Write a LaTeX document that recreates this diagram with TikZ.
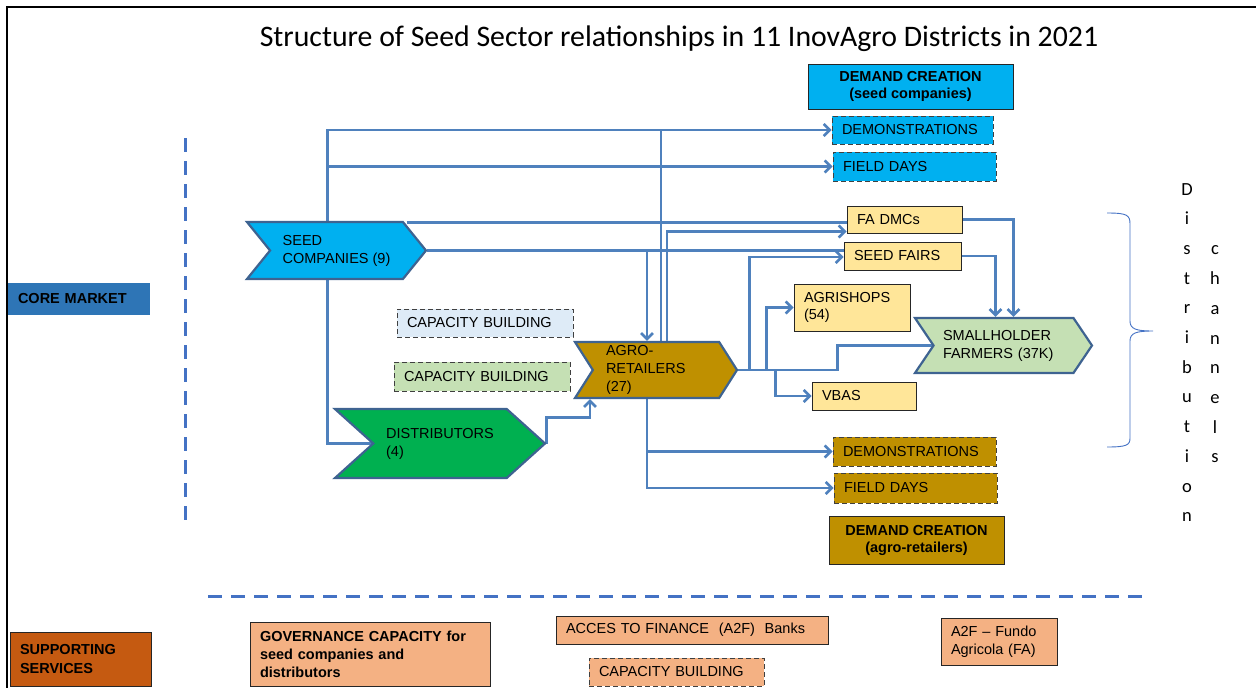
\documentclass[tikz,border=0pt]{standalone}
\usepackage{fontspec}
\setmainfont{Liberation Sans}
\newfontfamily\calibrifont{Carlito}
\usepackage{tikz}
\usetikzlibrary{arrows.meta, positioning, calc, shapes.symbols, backgrounds}
\definecolor{linkblue}{HTML}{4F81BD}
\definecolor{sepblue}{HTML}{4472C4}
\definecolor{chevedge}{HTML}{3E6391}
\definecolor{seedcyan}{HTML}{00B0F0}
\definecolor{agrogold}{HTML}{BF9000}
\definecolor{distgreen}{HTML}{00B050}
\definecolor{farmgreen}{HTML}{C5E0B4}
\definecolor{paleyellow}{HTML}{FFE699}
\definecolor{paleblue}{HTML}{DEEBF7}
\definecolor{coreblue}{HTML}{2E75B6}
\definecolor{suppbrown}{HTML}{C55A11}
\definecolor{peach}{HTML}{F4B183}
\tikzset{
  flow/.style={draw=linkblue, line width=2.6pt, -{Straight Barb[length=6pt, width=12pt]}},
  link/.style={draw=linkblue, line width=2.6pt},
  chevron/.style={signal, signal from=west, signal to=east, draw=chevedge, line width=2.2pt,
    align=left, inner sep=0pt, font=\fontsize{14.5}{18}\selectfont},
  tag/.style={rectangle, draw=black!85, line width=1pt, align=left, inner xsep=10pt,
    inner ysep=0pt, font=\fontsize{14.5}{17}\selectfont},
  dashtag/.style={tag, draw=black!75, dash pattern=on 5pt off 3pt},
  headtag/.style={tag, align=center, font=\bfseries\fontsize{14.5}{17}\selectfont},
  separator/.style={sepblue, line width=3pt, dash pattern=on 14pt off 9pt},
  letters/.style={font=\calibrifont\fontsize{18.5}{29.7}\selectfont, align=center, inner sep=0pt, anchor=north}
}

\begin{document}
\begin{tikzpicture}[x=1pt, y=-1pt]
  \useasboundingbox (0,0) rectangle (1256,688);

  % Frame
  \draw[black, line width=1.5pt] (7,688) -- (7,7) -- (1256,7);

  % Title
  \node[font=\calibrifont\fontsize{29.8}{30}\selectfont] (title) at (679,39)
    {Structure of Seed Sector relationships in 11 InovAgro Districts in 2021};

  % Side labels and separators
  \node[tag, draw=coreblue, fill=coreblue, text width=121pt, minimum height=31pt,
    font=\bfseries\fontsize{14.5}{17}\selectfont] (core) at (78.5,298.5) {CORE MARKET};
  \draw[separator] (185,138) -- (185,520);
  \draw[separator] (208,596) -- (1148,596);

  % Demand creation (seed companies)
  \node[headtag, fill=seedcyan, minimum width=205pt, minimum height=45pt] (dcseed) at (910.5,86.5)
    {DEMAND CREATION\\(seed companies)};
  \node[dashtag, fill=seedcyan, text width=141pt, minimum height=28pt] (demoseed) at (912.5,130) {DEMONSTRATIONS};
  \node[dashtag, fill=seedcyan, text width=143pt, minimum height=29pt] (fdseed) at (914.5,166.5) {FIELD DAYS};

  % Distribution channels
  \node[tag, fill=paleyellow, text width=95pt, minimum height=27pt] (fadmc) at (904.5,219.5) {FA DMCs};
  \node[tag, fill=paleyellow, text width=97pt, minimum height=28pt] (sfairs) at (902.5,256) {SEED FAIRS};
  \node[tag, fill=paleyellow, text width=96pt, minimum height=47pt] (agrishops) at (852,307.5) {AGRISHOPS\\(54)};
  \node[tag, fill=paleyellow, text width=84pt, minimum height=28pt] (vbas) at (864,396) {VBAS};

  % Market actors
  \node[chevron, fill=seedcyan, signal pointer angle=102, minimum width=179pt, minimum height=57pt] (seedco)
    at (336.5,250.5) {SEED\\COMPANIES (9)};
  \node[chevron, fill=agrogold, signal pointer angle=115, minimum width=162pt, minimum height=56pt,
    text width=100pt] (agro) at (656,370) {AGRO-\\RETAILERS\\(27)};
  \node[chevron, fill=distgreen, signal pointer angle=84, minimum width=210pt, minimum height=69pt] (distrib)
    at (440,443.5) {DISTRIBUTORS\\(4)};
  \node[chevron, fill=farmgreen, signal pointer angle=112, minimum width=177pt, minimum height=55pt,
    text width=121pt] (farmers) at (1003.5,345.5) {SMALLHOLDER\\FARMERS (37K)};

  % Capacity building
  \node[dashtag, fill=paleblue, text width=156pt, minimum height=28pt] (cbseed) at (485,323) {CAPACITY BUILDING};
  \node[dashtag, fill=farmgreen, text width=156pt, minimum height=29pt] (cbdist) at (482,376.5) {CAPACITY BUILDING};

  % Demand creation (agro-retailers)
  \node[dashtag, fill=agrogold, text width=143pt, minimum height=29pt] (demoagro) at (914.5,451.5) {DEMONSTRATIONS};
  \node[dashtag, fill=agrogold, text width=143pt, minimum height=30pt] (fdagro) at (915.5,488) {FIELD DAYS};
  \node[headtag, fill=agrogold, minimum width=175pt, minimum height=48pt] (dcagro) at (916.5,540)
    {DEMAND CREATION\\(agro-retailers)};

  % Connectors
  \begin{scope}[on background layer]
    \draw[flow] ([xshift=-9pt]seedco.north) |- (demoseed.west);
    \draw[flow] ([xshift=-9pt]seedco.north) |- (fdseed.west);
    \draw[link] ([xshift=70pt, yshift=-1.5pt]seedco.north) -- ([xshift=70pt, yshift=-1.5pt]seedco.north -| fadmc.west);
    \draw[link] (seedco.east) -- (seedco.east -| sfairs.west);
    \draw[flow] ([xshift=-9pt]seedco.south) |- ([xshift=38pt]distrib.west);
    \draw[flow] ([xshift=-9pt]agro.north |- seedco.east) -- ([xshift=-9pt]agro.north);
    \draw[link] ([xshift=5pt]agro.north) -- ([xshift=5pt]agro.north |- demoseed.west);
    \draw[flow] ([xshift=11pt]agro.north) |- ([yshift=-12pt]fadmc.west);
    \draw[flow] (distrib.east) -- ++(0,26pt) -| ([xshift=-66pt]agro.south);
    \draw[flow] (agro.east) -- ++(11pt,0) |- ([yshift=-1pt]sfairs.west);
    \draw[flow] (agro.east) -- ++(28pt,0) |- (agrishops.west);
    \draw[flow] (agro.east) -- ++(37pt,0) |- (vbas.west);
    \draw[flow] (agro.east) -- ++(99pt,0) |- ([xshift=18pt]farmers.west);
    \draw[flow] ([xshift=-9pt]agro.south) |- (demoagro.west);
    \draw[flow] ([xshift=-9pt]agro.south) |- (fdagro.west);
    \draw[flow] (fadmc.east) -| ([xshift=10pt]farmers.north);
    \draw[flow] (sfairs.east) -| ([xshift=-8pt]farmers.north);
  \end{scope}

  % Distribution channels brace
  \draw[sepblue, line width=0.9pt] (1107,213) .. controls (1127,213) and (1130,215) .. (1130,224)
    -- (1130,321) .. controls (1130,329) and (1136,331) .. (1153,331)
    .. controls (1136,331) and (1130,333) .. (1130,341)
    -- (1130,438) .. controls (1130,445) and (1127,447) .. (1107,447);
  \node[letters] (distword) at (1187,183) {D\\i\\s\\t\\r\\i\\b\\u\\t\\i\\o\\n};
  \node[letters] (chanword) at (1215,245.8) {c\\h\\a\\n\\n\\e\\l\\s};

  % Supporting services
  \node[tag, fill=suppbrown, text width=121pt, minimum height=54pt,
    font=\bfseries\fontsize{14.5}{19}\selectfont] (supp) at (80.5,659) {SUPPORTING\\SERVICES};
  \node[tag, fill=peach, text width=220pt, minimum height=64pt,
    font=\bfseries\fontsize{14.5}{18}\selectfont] (gov) at (370,654)
    {GOVERNANCE CAPACITY for\\seed companies and\\distributors};
  \node[tag, fill=peach, text width=252pt, minimum height=28pt] (a2fbank) at (692,630)
    {ACCES TO FINANCE\ \ (A2F)\ \ Banks};
  \node[dashtag, fill=peach, text width=155pt, minimum height=28pt] (cbsupp) at (676.5,672) {CAPACITY BUILDING};
  \node[tag, fill=peach, text width=96pt, minimum height=47pt, font=\fontsize{14.5}{18}\selectfont] (a2ffa)
    at (999,641.5) {A2F -- Fundo\\Agricola (FA)};
\end{tikzpicture}
\end{document}
